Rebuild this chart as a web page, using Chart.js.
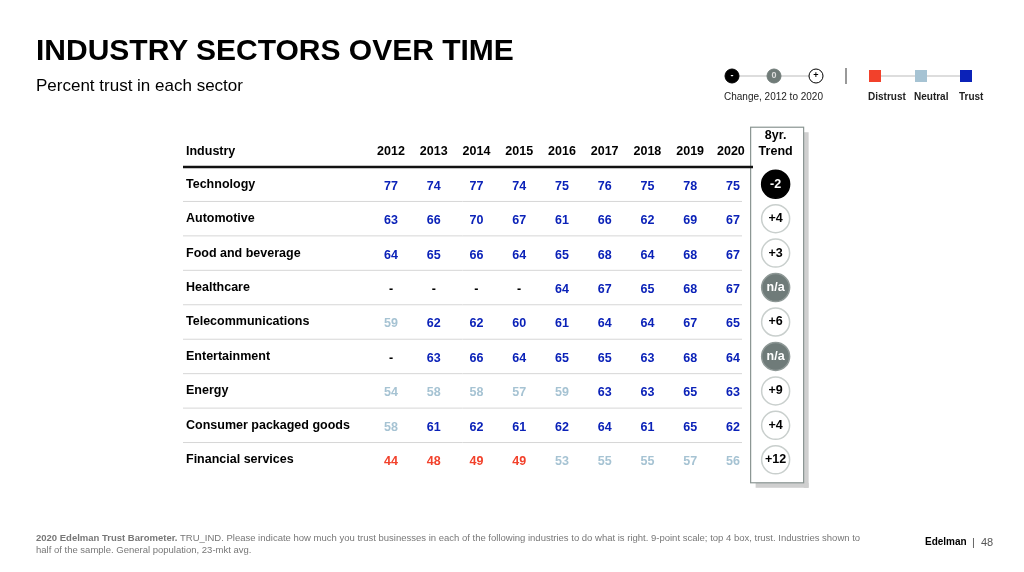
<!DOCTYPE html>
<html>
<head>
<meta charset="utf-8">
<script src="https://cdn.jsdelivr.net/npm/chart.js@4"></script>
<style>
  body { margin: 0; background: #fff; font-family: "Liberation Sans", Arial, sans-serif; }
  #wrap { position: relative; width: 1024px; height: 572px; overflow: hidden; }
  canvas { position: absolute; left: 0; top: 0; }
  .abs { position: absolute; }
  h1 { position: absolute; left: 36px; top: 33px; margin: 0; font-size: 30px; font-weight: bold; color: #000; }
  .sub { left: 36px; top: 76px; font-size: 17px; }
  .foot { left: 36px; top: 532px; width: 840px; font-size: 9.5px; color: #777; line-height: 12px; }
  .lg { font-size: 10px; color: #222; }
</style>
</head>
<body>
<div id="wrap">
  <canvas id="c" width="1024" height="572"></canvas>
  <h1>INDUSTRY SECTORS OVER TIME</h1>
  <div class="abs sub">Percent trust in each sector</div>
  <div class="abs lg" style="left:724px;top:91px;">Change, 2012 to 2020</div>
  <div class="abs lg" style="left:868px;top:91px;font-weight:bold;">Distrust</div>
  <div class="abs lg" style="left:914px;top:91px;font-weight:bold;">Neutral</div>
  <div class="abs lg" style="left:959px;top:91px;font-weight:bold;">Trust</div>
  <div class="abs foot"><b>2020 Edelman Trust Barometer.</b> TRU_IND. Please indicate how much you trust businesses in each of the following industries to do what is right. 9-point scale; top 4 box, trust. Industries shown to half of the sample. General population, 23-mkt avg.</div>
  <div class="abs" style="left:925px;top:536px;font-size:10px;font-weight:bold;">Edelman</div>
  <div class="abs" style="left:972px;top:536px;font-size:11px;color:#555;">|&nbsp;&nbsp;48</div>
</div>
<script>
const years = ['2012', '2013', '2014', '2015', '2016', '2017', '2018', '2019', '2020'];
const columns = years.concat(['Trend']);
const industries = ['Technology', 'Automotive', 'Food and beverage', 'Healthcare', 'Telecommunications',
  'Entertainment', 'Energy', 'Consumer packaged goods', 'Financial services'];
const technology = [77, 74, 77, 74, 75, 76, 75, 78, 75];
const automotive = [63, 66, 70, 67, 61, 66, 62, 69, 67];
const foodBeverage = [64, 65, 66, 64, 65, 68, 64, 68, 67];
const healthcare = [null, null, null, null, 64, 67, 65, 68, 67];
const telecom = [59, 62, 62, 60, 61, 64, 64, 67, 65];
const entertainment = [null, 63, 66, 64, 65, 65, 63, 68, 64];
const energy = [54, 58, 58, 57, 59, 63, 63, 65, 63];
const cpg = [58, 61, 62, 61, 62, 64, 61, 65, 62];
const financial = [44, 48, 49, 49, 53, 55, 55, 57, 56];
const trend = [-2, 4, 3, null, 6, null, 9, 4, 12];
const rows = [technology, automotive, foodBeverage, healthcare, telecom, entertainment, energy, cpg, financial];

const TRUST = '#0b22b8', NEUTRAL = '#a6c3d3', DISTRUST = '#f2412b';
function colorFor(v) {
  if (v === null) return '#000';
  if (v >= 60) return TRUST;
  if (v >= 50) return NEUTRAL;
  return DISTRUST;
}

const cellPoints = [];
rows.forEach((r, i) => r.forEach((v, j) => cellPoints.push({ x: years[j], y: industries[i], v: v })));
const trendPoints = trend.map((v, i) => ({ x: 'Trend', y: industries[i], v: v }));

const tablePlugin = {
  id: 'table',
  beforeDatasetsDraw(chart) {
    const ctx = chart.ctx, xs = chart.scales.x, ys = chart.scales.y;
    const step = ys.getPixelForValue(1) - ys.getPixelForValue(0);
    const tx = xs.getPixelForValue(9);
    ctx.save();
    // trend box with hatched shadow
    const bx = tx - 25, bw = 53, by = ys.getPixelForValue(0) - 57, bb = ys.getPixelForValue(8) + 23;
    ctx.fillStyle = '#cfcfcf';
    ctx.fillRect(bx + bw, by + 5, 5, bb - by);
    ctx.fillRect(bx + 5, bb, bw, 5);
    ctx.fillStyle = '#fff';
    ctx.fillRect(bx, by, bw, bb - by);
    ctx.strokeStyle = '#8a9592';
    ctx.lineWidth = 1.2;
    ctx.strokeRect(bx, by, bw, bb - by);
    // row separators
    ctx.strokeStyle = '#d6d6d6';
    ctx.lineWidth = 1;
    for (let i = 0; i < industries.length - 1; i++) {
      const y = ys.getPixelForValue(i) + step / 2;
      ctx.beginPath(); ctx.moveTo(183, y); ctx.lineTo(742, y); ctx.stroke();
    }
    // header line
    const hy = ys.getPixelForValue(0) - step / 2;
    ctx.strokeStyle = '#111';
    ctx.lineWidth = 2.5;
    ctx.beginPath(); ctx.moveTo(183, hy); ctx.lineTo(753, hy); ctx.stroke();
    // header text
    ctx.fillStyle = '#000';
    ctx.font = 'bold 12.5px "Liberation Sans", Arial';
    ctx.textBaseline = 'middle';
    ctx.textAlign = 'left';
    ctx.fillText('Industry', 186, hy - 15);
    ctx.textAlign = 'center';
    years.forEach((y, j) => ctx.fillText(y, xs.getPixelForValue(j) - (j === 8 ? 2 : 0), hy - 15));
    ctx.fillText('8yr.', tx, hy - 31);
    ctx.fillText('Trend', tx, hy - 15);
    // industry names and values
    industries.forEach((name, i) => {
      const y = ys.getPixelForValue(i);
      ctx.textAlign = 'left';
      ctx.fillStyle = '#000';
      ctx.fillText(name, 186, y);
    });
    ctx.textAlign = 'center';
    chart.getDatasetMeta(0).data.forEach((el, k) => {
      const v = cellPoints[k].v;
      ctx.fillStyle = colorFor(v);
      ctx.fillText(v === null ? '-' : String(v), el.x, el.y + 2);
    });
    // legend
    ctx.lineWidth = 1;
    ctx.strokeStyle = '#bbb';
    ctx.beginPath(); ctx.moveTo(732, 76); ctx.lineTo(816, 76); ctx.stroke();
    ctx.beginPath(); ctx.moveTo(875, 76); ctx.lineTo(966, 76); ctx.stroke();
    [[732, '#000', '#000', '-', '#fff'], [774, '#707b78', '#707b78', '0', '#ddd'], [816, '#fff', '#000', '+', '#000']].forEach(c => {
      ctx.beginPath(); ctx.arc(c[0], 76, 7, 0, Math.PI * 2);
      ctx.fillStyle = c[1]; ctx.fill(); ctx.strokeStyle = c[2]; ctx.stroke();
      ctx.fillStyle = c[4]; ctx.font = 'bold 9px "Liberation Sans", Arial';
      ctx.fillText(c[3], c[0], 76);
    });
    ctx.fillStyle = '#999'; ctx.fillRect(845, 68, 2, 16);
    [[875, DISTRUST], [921, NEUTRAL], [966, TRUST]].forEach(c => {
      ctx.fillStyle = c[1]; ctx.fillRect(c[0] - 6, 70, 12, 12);
    });
    ctx.restore();
  },
  afterDatasetsDraw(chart) {
    const ctx = chart.ctx;
    ctx.save();
    ctx.textAlign = 'center';
    ctx.textBaseline = 'middle';
    ctx.font = 'bold 12.5px "Liberation Sans", Arial';
    chart.getDatasetMeta(1).data.forEach((el, k) => {
      const v = trendPoints[k].v;
      let txt = v === null ? 'n/a' : (v > 0 ? '+' + v : String(v));
      ctx.fillStyle = (v !== null && v > 0) ? '#000' : '#fff';
      ctx.fillText(txt, el.x, el.y);
    });
    ctx.restore();
  }
};

new Chart(document.getElementById('c'), {
  type: 'scatter',
  data: {
    datasets: [
      { data: cellPoints, pointRadius: 0, pointHoverRadius: 0 },
      {
        data: trendPoints.map(p => ({ x: p.x, y: p.y, v: p.v })),
        pointRadius: 14,
        pointHoverRadius: 14,
        pointBackgroundColor: trend.map(v => v === null ? '#6f7b79' : (v < 0 ? '#000' : '#fff')),
        pointBorderColor: trend.map(v => v === null ? '#8e9896' : (v < 0 ? '#000' : '#c9cfcd')),
        pointBorderWidth: 1.5
      }
    ]
  },
  options: {
    responsive: false,
    devicePixelRatio: 1,
    animation: false,
    layout: { padding: { left: 369.6, right: 227, top: 167, bottom: 95 } },
    plugins: { legend: { display: false }, tooltip: { enabled: false } },
    scales: {
      x: { type: 'category', labels: columns, offset: true, display: false },
      y: { type: 'category', labels: industries, offset: true, display: false }
    }
  },
  plugins: [tablePlugin]
});
</script>
</body>
</html>
